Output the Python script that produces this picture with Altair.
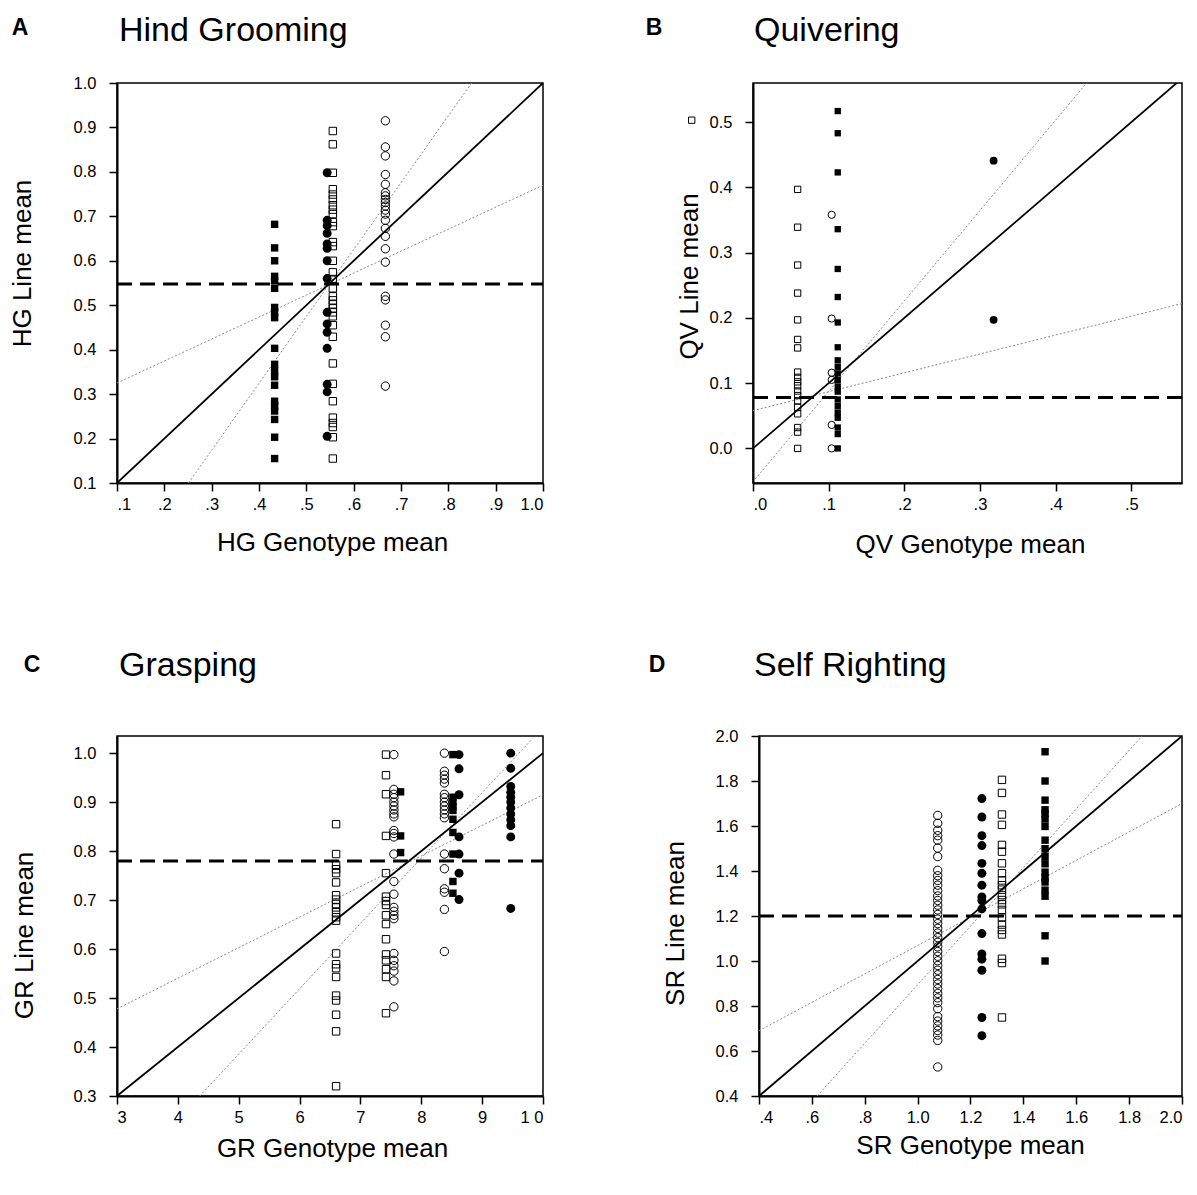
import altair as alt
import pandas as pd

FONT = "Liberation Sans"

# ---------------- Panel A: Hind Grooming ----------------
a_x_fill_sq = 0.433
a_fill_sq = [0.682, 0.629, 0.600, 0.565, 0.555, 0.538, 0.495, 0.484, 0.472, 0.403, 0.367,
             0.352, 0.339, 0.320, 0.284, 0.273, 0.262, 0.243, 0.203, 0.155]
a_x_fill_ci = 0.544
a_fill_ci = [0.798, 0.691, 0.679, 0.662, 0.638, 0.628, 0.600, 0.560, 0.484, 0.458, 0.439,
             0.403, 0.322, 0.305, 0.205]
a_x_open_sq = 0.556
a_open_sq = [0.892, 0.862, 0.798, 0.761, 0.749, 0.738, 0.725, 0.715, 0.705, 0.687, 0.678,
             0.642, 0.633, 0.600, 0.574, 0.559, 0.538, 0.520, 0.511, 0.502, 0.493, 0.484,
             0.475, 0.455, 0.429, 0.369, 0.323, 0.284, 0.247, 0.235, 0.226, 0.203, 0.155]
a_x_open_ci = 0.667
a_open_ci = [0.915, 0.856, 0.836, 0.794, 0.772, 0.753, 0.746, 0.738, 0.731, 0.723, 0.714,
             0.705, 0.691, 0.673, 0.655, 0.627, 0.597, 0.520, 0.512, 0.455, 0.429, 0.318]
a_dashed = 0.548
a_dotted_flat = [0.1, 0.325, 1.0, 0.77]
a_dotted_steep = [0.251, 0.1, 0.849, 1.0]

# ---------------- Panel B: Quivering ----------------
b_x_open_sq = 0.059
b_open_sq = [0.397, 0.339, 0.281, 0.238, 0.197, 0.167, 0.154, 0.117, 0.109, 0.102, 0.096,
             0.088, 0.081, 0.073, 0.063, 0.053, 0.032, 0.025, 0.0]
b_outlier_x = [-0.081]
b_outlier_y = [0.503]
b_x_open_ci = 0.104
b_open_ci = [0.358, 0.199, 0.116, 0.105, 0.036, 0.0]
b_x_fill_sq = 0.112
b_fill_sq = [0.517, 0.483, 0.423, 0.336, 0.275, 0.232, 0.193, 0.155, 0.135, 0.125, 0.115,
             0.105, 0.095, 0.087, 0.075, 0.065, 0.055, 0.047, 0.032, 0.022, 0.0]
b_x_fill_ci = 0.318
b_fill_ci = [0.441, 0.197]
b_dashed = 0.078
b_dotted_flat = [0.0, 0.058, 0.567, 0.222]
b_dotted_steep = [0.003, -0.047, 0.441, 0.56]

# ---------------- Panel C: Grasping ----------------
c_x_open_sq1 = 6.60
c_open_sq1 = [0.855, 0.794, 0.772, 0.763, 0.755, 0.736, 0.710, 0.701, 0.692, 0.685, 0.675,
              0.665, 0.658, 0.591, 0.569, 0.561, 0.543, 0.505, 0.495, 0.466, 0.432, 0.32]
c_x_open_sq2 = 7.42
c_open_sq2 = [0.997, 0.955, 0.916, 0.831, 0.755, 0.707, 0.698, 0.690, 0.669, 0.651, 0.620,
              0.589, 0.577, 0.559, 0.543, 0.469]
c_x_open_ci1 = 7.55
c_open_ci1 = [0.997, 0.926, 0.916, 0.909, 0.900, 0.892, 0.884, 0.876, 0.870, 0.842, 0.836,
              0.829, 0.794, 0.738, 0.712, 0.685, 0.677, 0.669, 0.662, 0.591, 0.577, 0.566,
              0.555, 0.535, 0.482]
c_x_fill_sq1 = 7.66
c_fill_sq1 = [0.921, 0.831, 0.797]
c_x_open_ci2 = 8.38
c_open_ci2 = [1.0, 0.963, 0.955, 0.947, 0.939, 0.916, 0.909, 0.900, 0.892, 0.884, 0.876,
              0.868, 0.794, 0.764, 0.723, 0.716, 0.681, 0.595]
c_x_fill_sq2 = 8.52
c_fill_sq2 = [0.997, 0.910, 0.900, 0.891, 0.883, 0.865, 0.838, 0.794, 0.738, 0.714]
c_x_fill_ci1 = 8.62
c_fill_ci1 = [0.997, 0.968, 0.915, 0.829, 0.794, 0.755, 0.701]
c_x_fill_ci2 = 9.47
c_fill_ci2 = [1.0, 0.969, 0.932, 0.92, 0.91, 0.90, 0.888, 0.876, 0.864, 0.852, 0.829, 0.683]
c_dashed = 0.78
c_dotted_flat = [3.0, 0.478, 10.0, 0.915]
c_dotted_steep = [4.36, 0.3, 9.83, 1.03]

# ---------------- Panel D: Self Righting ----------------
d_x_open_ci = 1.076
d_open_ci = [1.647, 1.612, 1.581, 1.557, 1.537, 1.502, 1.464, 1.403, 1.379, 1.358, 1.337,
             1.313, 1.289, 1.269, 1.248, 1.227, 1.207, 1.186, 1.166, 1.145, 1.124, 1.104,
             1.083, 1.063, 1.042, 1.021, 1.001, 0.980, 0.959, 0.939, 0.918, 0.898, 0.877,
             0.856, 0.836, 0.815, 0.788, 0.753, 0.733, 0.712, 0.691, 0.671, 0.647, 0.529]
d_x_fill_ci = 1.243
d_fill_ci = [1.722, 1.640, 1.557, 1.513, 1.434, 1.390, 1.337, 1.285, 1.269, 1.232, 1.122,
             1.031, 1.008, 0.959, 0.749, 0.668]
d_x_open_sq = 1.319
d_open_sq = [1.805, 1.747, 1.651, 1.605, 1.516, 1.486, 1.434, 1.390, 1.358, 1.337, 1.317,
             1.293, 1.271, 1.252, 1.227, 1.193, 1.162, 1.138, 1.118, 1.010, 0.991, 0.749]
d_x_fill_sq = 1.482
d_fill_sq = [1.93, 1.800, 1.715, 1.672, 1.655, 1.631, 1.598, 1.537, 1.499, 1.465, 1.432,
             1.395, 1.370, 1.351, 1.315, 1.288, 1.112, 1.000]
d_dashed = 1.2
d_dotted_flat = [0.4, 0.69, 2.0, 1.70]
d_dotted_steep = [0.62, 0.4, 1.849, 2.0]

# ---------------- axis ticks ----------------
a_xticks = [0.1, 0.2, 0.3, 0.4, 0.5, 0.6, 0.7, 0.8, 0.9, 1.0]
a_yticks = [0.1, 0.2, 0.3, 0.4, 0.5, 0.6, 0.7, 0.8, 0.9, 1.0]
b_xticks = [0.0, 0.1, 0.2, 0.3, 0.4, 0.5]
b_yticks = [0.0, 0.1, 0.2, 0.3, 0.4, 0.5]
c_xticks = [3, 4, 5, 6, 7, 8, 9, 10]
c_yticks = [0.3, 0.4, 0.5, 0.6, 0.7, 0.8, 0.9, 1.0]
d_xticks = [0.4, 0.6, 0.8, 1.0, 1.2, 1.4, 1.6, 1.8, 2.0]
d_yticks = [0.4, 0.6, 0.8, 1.0, 1.2, 1.4, 1.6, 1.8, 2.0]

DOT_EXPR = "datum.value < 0.99 ? substring(format(datum.value, '.1f'), 1) : format(datum.value, '.1f')"
C_EXPR = "datum.value == 10 ? '1 0' : format(datum.value, 'd')"


def pts(groups):
    rows = []
    for kind, x, ys in groups:
        xs = x if isinstance(x, list) else [x] * len(ys)
        for xv, yv in zip(xs, ys):
            rows.append({"x": xv, "y": yv, "kind": kind})
    return pd.DataFrame(rows)


def lines(xdom, slope, dashed, flat, steep):
    x0, x1 = xdom
    return pd.DataFrame([
        {"x": flat[0], "y": flat[1], "x2": flat[2], "y2": flat[3], "style": "dotted"},
        {"x": steep[0], "y": steep[1], "x2": steep[2], "y2": steep[3], "style": "dotted"},
        {"x": x0, "y": x0 * slope, "x2": x1, "y2": x1 * slope, "style": "solid"},
        {"x": x0, "y": dashed, "x2": x1, "y2": dashed, "style": "dashed"},
    ])


def panel(letter, title, pdf, ldf, xdom, ydom, xticks, yticks, xexpr, xtitle, ytitle,
          w, h, title_xy, letter_xy, ytitle_xy, xtitle_xy, sq_size=55, ci_size=70):
    xaxis = alt.Axis(values=xticks, labelExpr=xexpr, title=xtitle, titleX=xtitle_xy[0],
                     titleY=xtitle_xy[1], titleBaseline="middle", titleAlign="center",
                     labelPadding=5)
    yaxis = alt.Axis(values=yticks, format=".1f", title=ytitle, titleAngle=270,
                     titleX=ytitle_xy[0], titleY=ytitle_xy[1], titleBaseline="middle",
                     titleAlign="center", labelPadding=13)
    X = alt.X("x:Q", scale=alt.Scale(domain=xdom, nice=False, zero=False), axis=xaxis)
    Y = alt.Y("y:Q", scale=alt.Scale(domain=ydom, nice=False, zero=False), axis=yaxis)
    base_l = alt.Chart(ldf)
    layers = [
        base_l.transform_filter("datum.style == 'dotted'").mark_rule(
            clip=True, color="#8a8a8a", strokeWidth=1, strokeDash=[2, 2]
        ).encode(x=X, y=Y, x2="x2:Q", y2="y2:Q"),
        base_l.transform_filter("datum.style == 'solid'").mark_rule(
            clip=True, color="black", strokeWidth=1.8
        ).encode(x=X, y=Y, x2="x2:Q", y2="y2:Q"),
        base_l.transform_filter("datum.style == 'dashed'").mark_rule(
            clip=True, color="black", strokeWidth=3, strokeDash=[15, 8]
        ).encode(x=X, y=Y, x2="x2:Q", y2="y2:Q"),
    ]
    base_p = alt.Chart(pdf)
    specs = [
        ("open_sq", "square", False, sq_size),
        ("open_ci", "circle", False, ci_size),
        ("fill_sq", "square", True, sq_size),
        ("fill_ci", "circle", True, ci_size + 10),
    ]
    for kind, shape, filled, size in specs:
        if (pdf["kind"] == kind).any():
            layers.append(
                base_p.transform_filter(f"datum.kind == '{kind}'").mark_point(
                    shape=shape, filled=filled, size=size, color="black",
                    strokeWidth=1, opacity=1
                ).encode(x=X, y=Y)
            )
    layers.append(
        alt.Chart(pd.DataFrame({"t": [letter]})).mark_text(
            font=FONT, fontSize=23, fontWeight="bold", align="center", baseline="middle",
            color="black"
        ).encode(x=alt.value(letter_xy[0]), y=alt.value(letter_xy[1]), text="t:N")
    )
    layers.append(
        alt.Chart(pd.DataFrame({"t": [title]})).mark_text(
            font=FONT, fontSize=34, fontWeight="normal", align="left",
            baseline="alphabetic", color="black"
        ).encode(x=alt.value(title_xy[0]), y=alt.value(title_xy[1]), text="t:N")
    )
    return alt.layer(*layers).properties(width=w, height=h)


A = panel("A", "Hind Grooming",
          pts([("fill_sq", a_x_fill_sq, a_fill_sq), ("fill_ci", a_x_fill_ci, a_fill_ci),
               ("open_sq", a_x_open_sq, a_open_sq), ("open_ci", a_x_open_ci, a_open_ci)]),
          lines([0.1, 1.0], 1.0, a_dashed, a_dotted_flat, a_dotted_steep),
          [0.1, 1.0], [0.1, 1.0], a_xticks, a_yticks, DOT_EXPR,
          "HG Genotype mean", "HG Line mean", 426, 400, (2, -42),
          (-97, -55), (-95, 180), (215, 59))

B = panel("B", "Quivering",
          pts([("open_sq", b_x_open_sq, b_open_sq), ("open_sq", b_outlier_x, b_outlier_y),
               ("open_ci", b_x_open_ci, b_open_ci), ("fill_sq", b_x_fill_sq, b_fill_sq),
               ("fill_ci", b_x_fill_ci, b_fill_ci)]),
          lines([0.0, 0.567], 1.0, b_dashed, b_dotted_flat, b_dotted_steep),
          [0.0, 0.567], [-0.053, 0.56], b_xticks, b_yticks, DOT_EXPR,
          "QV Genotype mean", "QV Line mean", 429, 400, (1, -42),
          (-99, -55), (-64, 193), (217, 61), sq_size=40, ci_size=52)

C = panel("C", "Grasping",
          pts([("open_sq", c_x_open_sq1, c_open_sq1), ("open_sq", c_x_open_sq2, c_open_sq2),
               ("open_ci", c_x_open_ci1, c_open_ci1), ("fill_sq", c_x_fill_sq1, c_fill_sq1),
               ("open_ci", c_x_open_ci2, c_open_ci2), ("fill_sq", c_x_fill_sq2, c_fill_sq2),
               ("fill_ci", c_x_fill_ci1, c_fill_ci1), ("fill_ci", c_x_fill_ci2, c_fill_ci2)]),
          lines([3.0, 10.0], 0.1, c_dashed, c_dotted_flat, c_dotted_steep),
          [3.0, 10.0], [0.3, 1.035], c_xticks, c_yticks, C_EXPR,
          "GR Genotype mean", "GR Line mean", 426, 360, (2, -60),
          (-85, -71), (-93, 199), (215, 52))

D = panel("D", "Self Righting",
          pts([("open_ci", d_x_open_ci, d_open_ci), ("fill_ci", d_x_fill_ci, d_fill_ci),
               ("open_sq", d_x_open_sq, d_open_sq), ("fill_sq", d_x_fill_sq, d_fill_sq)]),
          lines([0.4, 2.0], 1.0, d_dashed, d_dotted_flat, d_dotted_steep),
          [0.4, 2.0], [0.4, 2.0], d_xticks, d_yticks, DOT_EXPR,
          "SR Genotype mean", "SR Line mean", 423, 360, (-5, -60),
          (-102, -71), (-84, 187), (211, 49))

top = alt.hconcat(A, B, spacing=210, bounds="flush")
bottom = alt.hconcat(C, D, spacing=216, bounds="flush")
chart = alt.vconcat(top, bottom, spacing=653, bounds="flush").properties(
    padding={"left": 0, "top": 5, "right": 0, "bottom": 0}
).configure_view(
    stroke="black", strokeWidth=1.5
).configure_axis(
    labelFont=FONT, labelFontSize=16.5, labelColor="black", titleFont=FONT, titleFontSize=26,
    titleFontWeight="normal", titleColor="black", domainColor="black", domainWidth=2,
    tickColor="black", tickWidth=1.5, tickSize=8, grid=False
)

chart.save("out.html", embed_options={"renderer": "svg", "actions": False})
